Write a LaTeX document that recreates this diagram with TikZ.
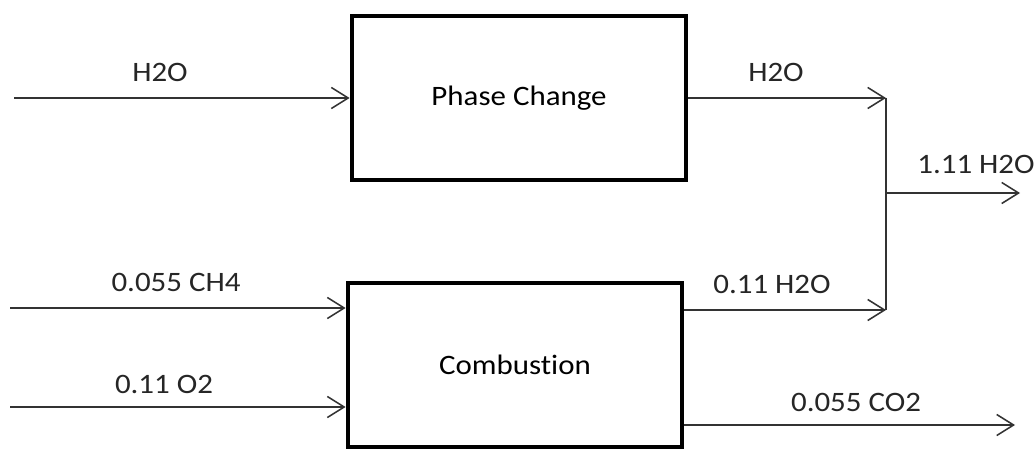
\documentclass[tikz,border=0pt]{standalone}
\usepackage{fontspec}
\setmainfont{Carlito}[Ligatures=NoCommon]
\usepackage{tikz}
\usetikzlibrary{arrows.meta, positioning}

\begin{document}
\begin{tikzpicture}[>={Straight Barb[length=12pt, width=15pt]},
    unit/.style={draw, line width=2.8pt, minimum width=8.25cm, minimum height=4.1cm,
        inner sep=0pt, xscale=1.1},
    flow/.style={->, line width=1.1pt, black!80},
    lbl/.style={text=black!85, xscale=1.1},
    every node/.style={font=\fontsize{20}{24}\selectfont}]
    \useasboundingbox (0,0) rectangle (25.9,11.2);

    % 1. Hai khối thiết bị
    \node[unit, minimum width=7.6cm] (phase) at (12.975,8.75) {Phase Change};
    \node[unit, minimum width=7.6cm] (comb) at (12.875,2.08) {Combustion};

    % 2. Các điểm đầu/cuối của dòng
    \coordinate (h2oIn) at (0.35,8.75);
    \coordinate (ch4In) at (0.25,3.5);
    \coordinate (o2In) at (0.25,1.025);
    \coordinate (mixTop) at (22.15,8.75);
    \coordinate (mixBot) at (22.15,3.45);
    \coordinate (mixOut) at (22.15,6.375);
    \coordinate (totOut) at (25.5,6.375);
    \coordinate (co2Out) at (25.375,0.575);

    % 3. Dòng vào
    \draw[flow] (h2oIn) -- (phase.west);
    \draw[flow] (ch4In) -- (ch4In -| comb.west);
    \draw[flow] (o2In) -- (o2In -| comb.west);

    % 4. Dòng ra và điểm trộn
    \draw[flow] (phase.east) -- (mixTop);
    \draw[flow] (mixBot -| comb.east) -- (mixBot);
    \draw[line width=1.1pt, black!80] (mixTop) -- (mixBot);
    \draw[flow] (mixOut) -- (totOut);
    \draw[flow] (co2Out -| comb.east) -- (co2Out);

    % 5. Nhãn các dòng
    \node[lbl] (lh2oIn) at (4.0,9.4) {H2O};
    \node[lbl] (lh2oOut) at (19.4,9.4) {H2O};
    \node[lbl] (ltot) at (24.4,7.1) {1.11 H2O};
    \node[lbl] (lch4) at (4.4,4.13) {0.055 CH4};
    \node[lbl] (lo2) at (4.1,1.58) {0.11 O2};
    \node[lbl] (lh2oComb) at (19.3,4.08) {0.11 H2O};
    \node[lbl] (lco2) at (21.4,1.13) {0.055 CO2};
\end{tikzpicture}
\end{document}
